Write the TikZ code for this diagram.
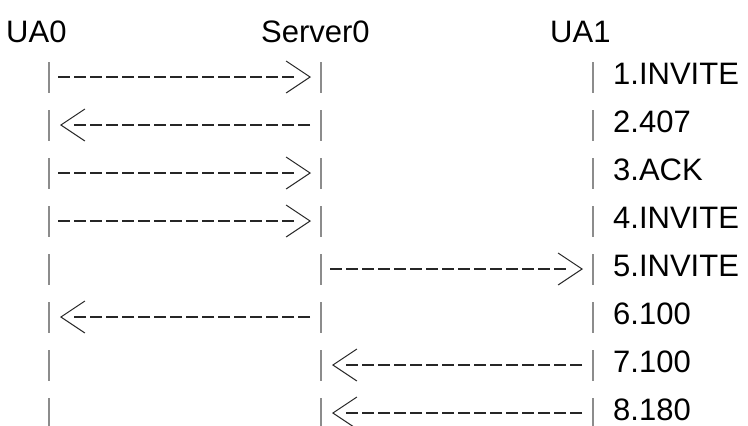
\documentclass[tikz,border=0pt]{standalone}
\usepackage{fontspec}
\setmainfont{Liberation Sans}
\usetikzlibrary{arrows.meta, decorations.markings}

\definecolor{barcol}{HTML}{8C8C8C}
\definecolor{dashcol}{HTML}{262626}
\tikzset{
  barb/.tip={Straight Barb[length=24pt, width=32pt, line width=1pt]},
  lbl/.style={inner sep=0pt, anchor=base west, font=\fontsize{31pt}{37pt}\selectfont},
  lifebar/.style={barcol, line width=1.2pt},
  msg/.style={dashcol, line width=2.2pt, dash pattern=on 12pt off 4pt, shorten >=14pt,
    postaction={decorate, decoration={markings, mark=at position 1 with {\arrow{barb}}}}}
}

\begin{document}
\begin{tikzpicture}[x=1pt, y=-1pt]
    \useasboundingbox (0,0) rectangle (748,426);
    % Names of the parties
        \node[lbl] (ua0) at (6, 42) {UA0};
        \node[lbl] (server0) at (261, 42) {Server0};
        \node[lbl] (ua1) at (550, 42) {UA1};
        % One short bar per party and row, message names on the right
        \foreach \r/\msgname in {1/1.INVITE, 2/2.407, 3/3.ACK, 4/4.INVITE,
                                 5/5.INVITE, 6/6.100, 7/7.100, 8/8.180} {
            \coordinate (a\r) at (49, 29+48*\r);
            \coordinate (s\r) at (321, 29+48*\r);
            \coordinate (u\r) at (593, 29+48*\r);
            \draw[lifebar] ([yshift=15pt]a\r) -- ([yshift=-16pt]a\r);
            \draw[lifebar] ([yshift=15pt]s\r) -- ([yshift=-16pt]s\r);
            \draw[lifebar] ([yshift=15pt]u\r) -- ([yshift=-16pt]u\r);
            \node[lbl] (m\r) at (613, 36+48*\r) {\msgname};
        }
        % Messages between UA0 and Server0
        \draw[msg] ([xshift=9pt]a1) -- ([xshift=-10pt]s1);
        \draw[msg] ([xshift=-11pt]s2) -- ([xshift=11pt]a2);
        \draw[msg] ([xshift=9pt]a3) -- ([xshift=-10pt]s3);
        \draw[msg] ([xshift=9pt]a4) -- ([xshift=-10pt]s4);
        \draw[msg] ([xshift=-11pt]s6) -- ([xshift=11pt]a6);
        % Messages between Server0 and UA1
        \draw[msg] ([xshift=9pt]s5) -- ([xshift=-10pt]u5);
        \draw[msg] ([xshift=-11pt]u7) -- ([xshift=11pt]s7);
        \draw[msg] ([xshift=-11pt]u8) -- ([xshift=11pt]s8);
\end{tikzpicture}
\end{document}
